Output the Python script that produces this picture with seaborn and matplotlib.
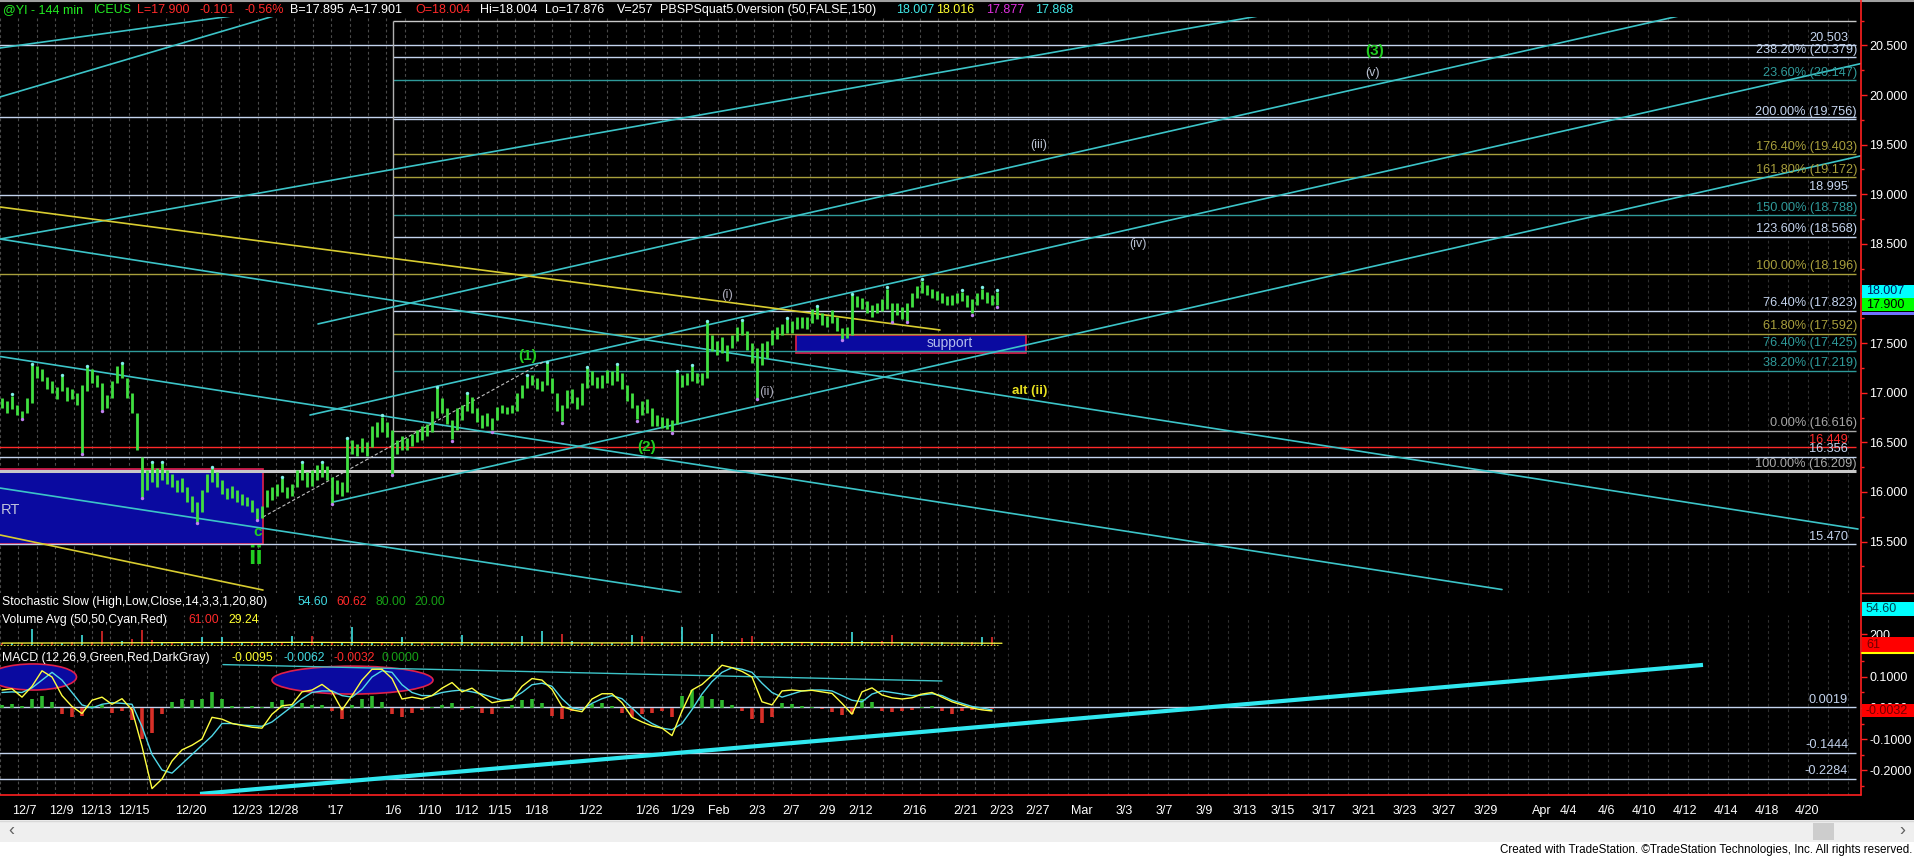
import numpy as np
import pandas as pd
import seaborn as sns
import matplotlib.pyplot as plt
from matplotlib.patches import Rectangle, Ellipse
from matplotlib.lines import Line2D
from matplotlib import font_manager

# ---------------- price bars (144 min bars, @YI) ----------------
bar_high = [16.95, 16.92, 16.97, 16.88, 16.82, 16.95, 17.28, 17.27, 17.24, 17.16,
            17.12, 17.06, 17.17, 17.06, 17.04, 17.00, 17.08, 17.26, 17.24, 17.18,
            17.10, 16.98, 17.12, 17.27, 17.29, 17.15, 17.00, 16.80, 16.35, 16.22,
            16.29, 16.24, 16.29, 16.22, 16.18, 16.12, 16.14, 16.05, 15.96, 15.90,
            16.02, 16.18, 16.24, 16.20, 16.12, 16.04, 16.06, 16.02, 15.98, 15.95,
            15.92, 15.84, 15.86, 16.02, 16.05, 16.08, 16.14, 16.05, 16.08, 16.22,
            16.29, 16.20, 16.22, 16.27, 16.29, 16.26, 16.15, 16.12, 16.10, 16.53,
            16.52, 16.48, 16.54, 16.50, 16.66, 16.70, 16.76, 16.70, 16.62, 16.52,
            16.56, 16.54, 16.58, 16.62, 16.66, 16.68, 16.82, 17.05, 16.95, 16.85,
            16.72, 16.85, 16.88, 16.99, 16.96, 16.85, 16.78, 16.80, 16.74, 16.86,
            16.88, 16.86, 16.88, 17.00, 17.08, 17.17, 17.18, 17.15, 17.12, 17.30,
            17.15, 17.00, 16.88, 17.03, 17.04, 16.96, 17.10, 17.25, 17.22, 17.16,
            17.18, 17.23, 17.22, 17.28, 17.20, 17.08, 17.00, 16.88, 16.92, 16.94,
            16.85, 16.78, 16.76, 16.74, 16.72, 17.21, 17.18, 17.20, 17.27, 17.20,
            17.20, 17.71, 17.58, 17.52, 17.56, 17.48, 17.58, 17.66, 17.72, 17.62,
            17.50, 17.45, 17.50, 17.52, 17.63, 17.66, 17.69, 17.74, 17.72, 17.76,
            17.76, 17.76, 17.84, 17.86, 17.80, 17.77, 17.83, 17.76, 17.65, 17.66,
            17.98, 17.97, 17.95, 17.92, 17.88, 17.90, 17.94, 18.05, 17.90, 17.90,
            17.86, 17.90, 18.00, 18.08, 18.13, 18.09, 18.05, 18.03, 18.00, 17.97,
            17.98, 18.00, 18.02, 17.98, 17.94, 18.00, 18.05, 18.01, 17.98, 18.02]
bar_low = [16.85, 16.80, 16.84, 16.78, 16.75, 16.80, 16.90, 17.15, 17.12, 17.04,
           17.00, 16.94, 17.02, 16.92, 16.94, 16.88, 16.39, 17.02, 17.10, 17.06,
           16.83, 16.85, 16.95, 17.10, 17.15, 16.95, 16.80, 16.42, 15.95, 16.02,
           16.10, 16.05, 16.12, 16.08, 16.05, 16.00, 16.00, 15.90, 15.80, 15.70,
           15.80, 16.00, 16.10, 16.05, 15.98, 15.93, 15.94, 15.90, 15.87, 15.86,
           15.80, 15.73, 15.74, 15.85, 15.92, 15.96, 16.00, 15.94, 15.96, 16.05,
           16.12, 16.05, 16.06, 16.12, 16.15, 16.12, 15.89, 15.98, 15.96, 16.00,
           16.38, 16.36, 16.40, 16.36, 16.45, 16.55, 16.60, 16.55, 16.18, 16.38,
           16.42, 16.42, 16.46, 16.50, 16.52, 16.56, 16.60, 16.75, 16.80, 16.68,
           16.53, 16.62, 16.72, 16.82, 16.80, 16.70, 16.64, 16.66, 16.62, 16.72,
           16.80, 16.79, 16.80, 16.82, 16.95, 17.05, 17.08, 17.04, 17.02, 17.08,
           17.00, 16.82, 16.71, 16.85, 16.90, 16.84, 16.88, 17.05, 17.08, 17.05,
           17.05, 17.10, 17.08, 17.12, 17.04, 16.92, 16.85, 16.73, 16.78, 16.80,
           16.66, 16.66, 16.64, 16.63, 16.61, 16.68, 17.06, 17.08, 17.12, 17.10,
           17.08, 17.15, 17.42, 17.38, 17.40, 17.32, 17.45, 17.52, 17.58, 17.43,
           17.30, 16.95, 17.28, 17.35, 17.48, 17.54, 17.58, 17.60, 17.60, 17.64,
           17.65, 17.64, 17.70, 17.74, 17.68, 17.66, 17.70, 17.62, 17.54, 17.55,
           17.58, 17.86, 17.84, 17.80, 17.76, 17.80, 17.82, 17.84, 17.72, 17.78,
           17.74, 17.72, 17.86, 17.95, 18.00, 17.98, 17.95, 17.93, 17.90, 17.88,
           17.88, 17.90, 17.92, 17.86, 17.80, 17.88, 17.94, 17.90, 17.88, 17.88]
pivot_hi = [2, 6, 12, 17, 24, 30, 32, 42, 56, 60, 64, 69, 76, 87, 93, 105, 109,
            117, 123, 135, 138, 141, 148, 157, 163, 170, 177, 184, 192, 196, 199]
pivot_lo = [4, 16, 20, 28, 39, 51, 66, 78, 90, 98, 112, 127, 134, 151, 168,
            178, 181, 194, 199]

# ---------------- lower panes (one value every 2 bars) ----------------
volume = [40, 35, 45, 300, 40, 50, 35, 60, 180, 50, 250, 60, 70, 110, 280, 90, 50, 40, 45, 60,
          150, 40, 150, 40, 35, 45, 60, 40, 50, 170, 45, 160, 40, 60, 50, 320, 45, 40, 60, 50,
          150, 40, 45, 55, 40, 50, 180, 45, 40, 60, 40, 55, 160, 40, 250, 60, 200, 80, 40, 50,
          35, 45, 40, 180, 170, 45, 50, 60, 330, 60, 45, 200, 70, 55, 120, 170, 60, 50, 45, 60,
          40, 50, 45, 40, 60, 230, 80, 50, 70, 180, 50, 45, 60, 40, 50, 45, 55, 60, 150, 150]
volume_side = list("rcrcrrcrcr" "rrcrrrcrcc" "cccrcrccrc" "crcrccrcrr" "ccrrcrccrc"
                   "rccrcrrcrc" "rcrcrrcrcc" "rccrrrcrcc" "rcrcrccrrr" "ccrccrcrcr")
volume_avg = [35, 38, 45, 48, 42, 40, 38, 42, 45, 40, 32]

macd_line = [0.058, 0.062, 0.035, 0.070, 0.120, 0.100, 0.040, 0.005, -0.018, 0.025,
             0.035, 0.012, 0.030, -0.006, -0.124, -0.260, -0.229, -0.171, -0.135, -0.120,
             -0.100, -0.030, -0.036, -0.050, -0.056, -0.062, -0.065, -0.020, 0.007, 0.011,
             0.052, 0.058, 0.076, 0.052, -0.006, 0.040, 0.090, 0.125, 0.125, 0.095,
             0.029, 0.035, 0.029, 0.040, 0.064, 0.082, 0.052, 0.064, 0.040, 0.017,
             0.023, 0.026, 0.070, 0.095, 0.090, 0.060, 0.005, -0.006, -0.012, 0.029,
             0.046, 0.046, 0.017, -0.030, -0.045, -0.058, -0.065, -0.089, -0.010, 0.058,
             0.076, 0.105, 0.138, 0.130, 0.118, 0.100, 0.020, 0.010, 0.055, 0.058,
             0.055, 0.057, 0.052, 0.047, 0.015, -0.020, 0.052, 0.065, 0.042, 0.033,
             0.029, 0.033, 0.045, 0.050, 0.035, 0.020, 0.010, 0.000, -0.006, -0.0095]
macd_signal = [0.050, 0.052, 0.050, 0.065, 0.090, 0.115, 0.090, 0.050, 0.010, 0.000,
               0.012, 0.017, 0.015, 0.012, -0.060, -0.150, -0.200, -0.210, -0.180, -0.150,
               -0.120, -0.090, -0.050, -0.050, -0.055, -0.057, -0.059, -0.045, -0.020, 0.005,
               0.030, 0.050, 0.055, 0.055, 0.040, 0.035, 0.060, 0.100, 0.120, 0.115,
               0.075, 0.050, 0.040, 0.040, 0.050, 0.055, 0.058, 0.052, 0.045, 0.035,
               0.025, 0.030, 0.050, 0.075, 0.080, 0.070, 0.030, 0.000, -0.005, 0.015,
               0.030, 0.040, 0.030, 0.000, -0.030, -0.050, -0.065, -0.070, -0.050, -0.005,
               0.045, 0.085, 0.115, 0.130, 0.125, 0.115, 0.080, 0.050, 0.035, 0.045,
               0.055, 0.058, 0.058, 0.055, 0.040, 0.025, 0.020, 0.045, 0.055, 0.050,
               0.045, 0.040, 0.042, 0.046, 0.040, 0.025, 0.015, 0.005, 0.000, -0.0062]
macd_hist = [0.010, 0.012, 0.005, 0.030, 0.040, 0.020, -0.020, -0.030, -0.025, 0.008,
             0.010, -0.015, -0.010, -0.040, -0.100, -0.080, -0.020, 0.020, 0.030, 0.025,
             0.030, 0.050, 0.030, 0.005, 0.004, 0.005, 0.004, 0.020, 0.025, 0.010,
             0.015, 0.010, 0.010, -0.010, -0.036, 0.010, 0.030, 0.040, 0.020, -0.020,
             -0.030, -0.015, -0.005, 0.003, 0.010, 0.015, -0.005, 0.008, -0.015, -0.020,
             0.004, 0.010, 0.025, 0.030, 0.015, -0.025, -0.036, -0.010, -0.005, 0.012,
             0.017, 0.008, -0.015, -0.030, -0.020, -0.015, -0.010, -0.030, 0.040, 0.058,
             0.040, 0.030, 0.025, 0.010, -0.010, -0.035, -0.048, -0.030, 0.015, 0.012,
             0.005, 0.003, -0.004, -0.012, -0.024, -0.020, 0.030, 0.020, -0.010, -0.012,
             -0.010, -0.005, 0.004, 0.005, -0.010, -0.018, -0.010, -0.005, -0.006, -0.0032]

# ---------------- date axis (positions in bar units) ----------------
date_labels = ["12/7", "12/9", "12/13", "12/15", "12/20", "12/23", "12/28", "'17", "1/6",
               "1/10", "1/12", "1/15", "1/18", "1/22", "1/26", "1/29", "Feb", "2/3", "2/7",
               "2/9", "2/12", "2/16", "2/21", "2/23", "2/27", "Mar", "3/3", "3/7", "3/9",
               "3/13", "3/15", "3/17", "3/21", "3/23", "3/27", "3/29", "Apr", "4/4", "4/6",
               "4/10", "4/12", "4/14", "4/18", "4/20"]
date_pos = [4.4, 11.8, 18.8, 26.4, 37.8, 49.0, 56.2, 66.6, 78.2, 85.4, 92.8, 99.4, 106.8,
            117.6, 129.0, 136.0, 143.4, 151.0, 157.8, 165.0, 171.8, 182.6, 192.8, 199.8,
            207.2, 216.0, 224.4, 232.4, 240.4, 248.6, 256.2, 264.4, 272.4, 280.6, 288.4,
            296.8, 308.0, 313.2, 320.8, 328.4, 336.6, 344.8, 353.0, 361.0]

# ---------------- drawn levels ----------------
LB, TEAL, OLIVE, GRAY, RED = "#c4d4ee", "#2f9a9a", "#a89f3c", "#a8a8a8", "#ff2a2a"
level_price = [20.747, 20.503, 20.379, 20.147, 19.775, 19.756, 19.403, 19.172, 18.995,
               18.788, 18.568, 18.196, 17.823, 17.592, 17.425, 17.219, 16.616, 16.449,
               16.356, 16.209, 15.470]
level_color = ["#c8c8c8", LB, LB, TEAL, LB, LB, OLIVE, OLIVE, LB,
               TEAL, LB, OLIVE, LB, OLIVE, TEAL, TEAL, GRAY, RED,
               LB, "#c8c8c8", LB]
level_start = [78.2, -1, 78.2, 78.2, -1, 78.2, 78.2, 78.2, -1,
               78.2, 78.2, -1, 78.2, 78.2, -1, 78.2, 78.2, -1,
               -1, -1, -1]
level_text = ["", "20.503", "238.20% (20.379)", "23.60% (20.147)", "",
              "200.00% (19.756)", "176.40% (19.403)", "161.80% (19.172)", "18.995",
              "150.00% (18.788)", "123.60% (18.568)", "100.00% (18.196)", "76.40% (17.823)",
              "61.80% (17.592)", "76.40% (17.425)", "38.20% (17.219)", "0.00% (16.616)",
              "16.449", "16.356", "100.00% (16.209)", "15.470"]

# trend lines: (bar0, price0, bar1, price1, colour, width)
CY = "#3cc4c8"
trend_lines = [(-0.4, 20.475, 60.0, 20.895, CY, 1.2),
               (-0.4, 19.981, 70.0, 21.030, CY, 1.2),
               (-0.4, 18.549, 260.0, 20.875, CY, 1.2),
               (63.2, 17.693, 340.0, 20.850, CY, 1.2),
               (61.6, 16.775, 372.0, 20.320, CY, 1.2),
               (66.2, 15.898, 372.0, 19.390, CY, 1.2),
               (-0.4, 18.549, 371.2, 15.626, CY, 1.2),
               (-0.4, 17.365, 300.0, 15.016, CY, 1.2),
               (-0.4, 16.039, 135.6, 14.990, CY, 1.2),
               (-0.4, 18.872, 187.6, 17.632, "#d8cc30", 1.2),
               (-0.4, 15.566, 52.2, 15.011, "#d8cc30", 1.2)]

W, H = 1914, 856
names = {f.name for f in font_manager.fontManager.ttflist}
BASE = "Liberation Sans" if "Liberation Sans" in names else "DejaVu Sans"
NARROW = "Liberation Sans Narrow" if "Liberation Sans Narrow" in names else BASE
HSIZE = 10 if NARROW != BASE else 9

sns.set_theme(style="dark")
plt.rcParams["font.family"] = [BASE, "DejaVu Sans"]
plt.rcParams["axes.facecolor"] = "black"
plt.rcParams["figure.facecolor"] = "black"


def fx(px):
    return px / W


def fy(py):
    return 1 - py / H


def rect(x0, y0, x1, y1):
    return [fx(x0), fy(y1), (x1 - x0) / W, (y1 - y0) / H]


fig = plt.figure(figsize=(W / 100, H / 100), dpi=100)
ax = fig.add_axes(rect(0, 17, 1861, 593))
axv = fig.add_axes(rect(0, 615, 1861, 650), sharex=ax)
axm = fig.add_axes(rect(0, 652, 1861, 795), sharex=ax)
for a in (ax, axv, axm):
    a.set_facecolor("black")
    for s in a.spines.values():
        s.set_visible(False)
    a.grid(False)

ax.set_xlim(-0.4, 371.8)
ax.set_ylim(14.981, 20.787)
axv.set_ylim(-91, 546)
axm.set_ylim(-0.2806, 0.1806)

# daily dashed grid (dimmer in the empty future part)
past_grid = (np.arange(0, 1000, 18.4) - 2) / 5
future_grid = (np.arange(1008, 1861, 20) - 2) / 5
for a in (ax, axv, axm):
    for g in past_grid:
        a.axvline(g, color="#4a4a4a", lw=0.8, ls=(0, (2.5, 2.5)), zorder=0)
    for g in future_grid:
        a.axvline(g, color="#303030", lw=0.8, ls=(0, (2.5, 2.5)), zorder=0)

# boxes
ax.add_patch(Rectangle((-1, 15.47), 53.2, 0.76, facecolor="#0a0aa0", edgecolor="#e0204a", lw=1.2, zorder=1))
ax.add_patch(Rectangle((158.8, 17.40), 46.0, 0.18, facecolor="#0a0aa0", edgecolor="#e0204a", lw=1.2, zorder=1))
ax.text(-0.3, 15.818, "RT", color="#c0c4dc", fontsize=10.5, ha="left", va="center", zorder=2)
ax.text(189.6, 17.50, "support", color="#b4bcec", fontsize=10, ha="center", va="center", zorder=6)

# horizontal levels + labels
for p, c, st, t in zip(level_price, level_color, level_start, level_text):
    lw = 2.2 if p == 16.209 else 1.0
    ax.hlines(p, st, 370.8, color=c, lw=lw, zorder=2)
    if t:
        xr = 369.2 if "%" not in t else 371.0
        ax.annotate(t, (xr, p), xytext=(0, 1.2), textcoords="offset points", ha="right",
                    va="bottom", color=c if c != "#c8c8c8" else GRAY, fontsize=9.2, zorder=7)
ax.vlines(78.2, 16.209, 20.747, color="#b0b0b0", lw=1.0, zorder=2)

for b0, p0, b1, p1, c, w in trend_lines:
    ax.plot([b0, b1], [p0, p1], color=c, lw=w, zorder=3)
ax.plot([52.2, 108.6], [15.747, 17.319], color="#c0c0c0", lw=0.8, ls=(0, (3, 2)), zorder=3)

# price bars
bars = pd.DataFrame({"bar": np.arange(len(bar_high)), "high": bar_high, "low": bar_low})
ax.vlines(bars["bar"], bars["low"], bars["high"], color="#40e040", lw=2.0, zorder=5)
ax.scatter(bars["bar"].iloc[pivot_hi], bars["high"].iloc[pivot_hi] + 0.012, s=6, color="#7ff0e8", zorder=6, linewidths=0)
ax.scatter(bars["bar"].iloc[pivot_lo], bars["low"].iloc[pivot_lo] - 0.012, s=6, color="#c080f0", zorder=6, linewidths=0)

# wave labels
GREEN_L = "#22cc22"
wave = [("(3)", 274.6, 20.445, GREEN_L, 11, "bold"), ("(v)", 274.0, 20.223, "#b8c0d0", 9, "normal"),
        ("(iii)", 207.4, 19.497, "#b8c0d0", 9, "normal"), ("(iv)", 227.2, 18.50, "#b8c0d0", 9, "normal"),
        ("(i)", 145.0, 17.986, "#a8a8b8", 9.5, "normal"), ("(ii)", 153.0, 17.008, "#a8a8b8", 9.5, "normal"),
        ("alt (ii)", 205.6, 17.018, "#e8e020", 9.5, "bold"), ("(1)", 105.2, 17.369, GREEN_L, 11, "bold"),
        ("(2)", 129.0, 16.451, GREEN_L, 11, "bold"), ("c", 51.2, 15.596, GREEN_L, 11, "bold"),
        ("ii", 50.6, 15.344, GREEN_L, 19, "bold")]
for t, xb, yp, c, fs, fw in wave:
    ax.text(xb, yp, t, color=c, fontsize=fs, fontweight=fw, ha="center", va="center", zorder=8)

# volume pane
vol = pd.DataFrame({"bar": np.arange(len(volume)) * 2, "vol": volume,
                    "col": ["#40e0e0" if s == "c" else "#e02828" for s in volume_side]})
axv.vlines(vol["bar"], 0, vol["vol"], colors=vol["col"], lw=1.2, zorder=3)
sns.lineplot(x=np.arange(len(volume_avg)) * 20, y=volume_avg, ax=axv, color="#ffff40", lw=0.9, zorder=4)
axv.axhline(0, xmax=998 / 1861, color="#ffff40", lw=0.6, ls=(0, (2, 2)), zorder=2)

# MACD pane
macd = pd.DataFrame({"bar": np.arange(len(macd_line)) * 2, "macd": macd_line,
                     "signal": macd_signal, "hist": macd_hist})
axm.add_patch(Ellipse((6.2, 0.10), 17.4, 0.084, facecolor="#0a0aa0", edgecolor="#e0204a", lw=1.2, zorder=1))
axm.add_patch(Ellipse((70.1, 0.09), 32.2, 0.09, facecolor="#0a0aa0", edgecolor="#e0204a", lw=1.2, zorder=1))
for p, t in [(0.0019, "0.0019"), (-0.1444, "-0.1444"), (-0.2284, "-0.2284")]:
    axm.hlines(p, -1, 370.8, color=LB, lw=1.0, zorder=2)
    axm.annotate(t, (369.2, p), xytext=(0, 1.2), textcoords="offset points", ha="right",
                 va="bottom", color=LB, fontsize=9.2)
axm.vlines(macd["bar"], 0, macd["hist"], colors=np.where(macd["hist"] >= 0, "#2fb82f", "#d83028"), lw=2.6, zorder=3)
axm.plot([44.2, 188.0], [0.140, 0.087], color=CY, lw=1.0, zorder=3)
axm.plot([39.6, 340.2], [-0.277, 0.139], color="#30e8f0", lw=3.0, zorder=3, solid_capstyle="butt")
sns.lineplot(data=macd, x="bar", y="signal", ax=axm, color="#50d8e8", lw=1.0, zorder=4)
sns.lineplot(data=macd, x="bar", y="macd", ax=axm, color="#ffff40", lw=1.0, zorder=5)

for a in (ax, axv, axm):
    a.set_xlabel("")
    a.set_ylabel("")
    a.yaxis.tick_right()
    a.tick_params(axis="y", colors="#ff2020", labelcolor="white", length=4, width=1, pad=2,
                  labelsize=9, left=False)

ax.set_yticks(np.arange(15.5, 20.51, 0.5))
ax.set_yticks(np.arange(15.25, 20.76, 0.25), minor=True)
ax.yaxis.set_major_formatter(plt.FormatStrFormatter("%.3f"))
axv.set_yticks([200])
axm.set_yticks([0.1, 0.0, -0.1, -0.2])
axm.set_yticks(np.arange(-0.25, 0.16, 0.05), minor=True)
axm.yaxis.set_major_formatter(plt.FormatStrFormatter("%.4f"))
for a in (ax, axm):
    a.tick_params(axis="y", which="minor", colors="#ff2020", length=2, right=True, left=False)

axm.set_xticks(date_pos)
axm.set_xticklabels(date_labels)
for a in (ax, axv):
    a.tick_params(axis="x", bottom=False, labelbottom=False)
axm.tick_params(axis="x", colors="#ff2020", labelcolor="white", length=4, width=1, pad=3,
                labelsize=9)
for lbl in axm.get_xticklabels():
    lbl.set_fontfamily([NARROW, "DejaVu Sans"])
ax.set_xlim(-0.4, 371.8)


# ---------------- frame, header and right-hand boxes ----------------
def fline(x0, y0, x1, y1, c, w=1.0):
    fig.add_artist(Line2D([fx(x0), fx(x1)], [fy(y0), fy(y1)], color=c, lw=w, transform=fig.transFigure))


def fbox(x0, y0, x1, y1, c):
    fig.add_artist(Rectangle((fx(x0), fy(y1)), (x1 - x0) / W, (y1 - y0) / H, facecolor=c,
                             edgecolor="none", transform=fig.transFigure))


fline(0, 0.7, W, 0.7, "#a0a0a0", 1.5)
fline(1861, 0, 1861, 795, "#ff2020", 1.2)
fline(0, 795, 1861, 795, "#ff2020", 1.2)
fline(1861, 593, W, 593, "#ff2020", 1.0)

fbox(1862, 285, W, 298, "#00ffff")
fig.text(fx(1866), fy(291.5), "18.007", color="#001a60", fontsize=9, va="center")
fbox(1862, 298, W, 311, "#00ff00")
fig.text(fx(1866), fy(304.5), "17.900", color="black", fontsize=9, va="center")
fbox(1862, 312, W, 315, "#7070ff")
fbox(1862, 602, W, 616, "#00ffff")
fig.text(fx(1866), fy(609), "54.60", color="#004050", fontsize=9, va="center")
fbox(1862, 637, W, 652, "#ff0000")
fig.text(fx(1866), fy(644.5), "61", color="#700000", fontsize=9, va="center")
fline(1862, 652.5, W, 652.5, "#ffff00", 1.5)
fbox(1862, 704, W, 717, "#ff0000")
fig.text(fx(1866), fy(710.5), "-0.0032", color="#700000", fontsize=9, va="center")

header = [("@YI - 144 min", 3, "#22ee22"), ("ICEUS", 94, "#22ee22"), ("L=17.900", 137, RED),
          ("-0.101", 200, RED), ("-0.56%", 244, RED), ("B=17.895", 290, "white"),
          ("A=17.901", 349, "white"), ("O=18.004", 415, RED), ("Hi=18.004", 480, "white"),
          ("Lo=17.876", 545, "white"), ("V=257", 617, "white"),
          ("PBSPSquat5.0version (50,FALSE,150)", 660, "white"), ("18.007", 896, "#40e8e8"),
          ("18.016", 936, "#ffff30"), ("17.877", 986, "#e030e0"), ("17.868", 1035, "#40e8e8")]
for t, x, c in header:
    fig.text(fx(x), fy(10), t, color=c, fontsize=HSIZE, va="center", family=[NARROW, "DejaVu Sans"])

pane_titles = [(602, [("Stochastic Slow (High,Low,Close,14,3,3,1,20,80)", 2, "white"), ("54.60", 297, "#40d8e0"),
                      ("60.62", 336, RED), ("80.00", 375, "#16a016"), ("20.00", 414, "#16a016")]),
               (620, [("Volume Avg (50,50,Cyan,Red)", 2, "white"), ("61.00", 188, RED), ("29.24", 228, "#ffff30")]),
               (658, [("MACD (12,26,9,Green,Red,DarkGray)", 2, "white"), ("-0.0095", 232, "#ffff30"),
                      ("-0.0062", 283, "#40d8e0"), ("-0.0032", 334, RED), ("0.0000", 382, "#16a016")])]
for y, parts in pane_titles:
    for t, x, c in parts:
        fig.text(fx(x), fy(y), t, color=c, fontsize=8.8, va="center")

# scroll bar and footer
fbox(0, 820, W, 842, "#efefef")
fbox(0, 842, W, H, "white")
fline(0, 820.5, W, 820.5, "#d8d8d8", 1)
fbox(1813, 823, 1834, 840, "#cdcdcd")
fig.text(fx(8), fy(831), "\u2039", color="#606060", fontsize=13, va="center")
fig.text(fx(1899), fy(831), "\u203a", color="#606060", fontsize=13, va="center")
fig.text(fx(1912), fy(850), "Created with TradeStation. \u00a9TradeStation Technologies, Inc. All rights reserved.",
         color="black", fontsize=8.4, ha="right", va="center", family=[NARROW, "DejaVu Sans"])

fig.savefig("out.png", dpi=100, facecolor="black")
